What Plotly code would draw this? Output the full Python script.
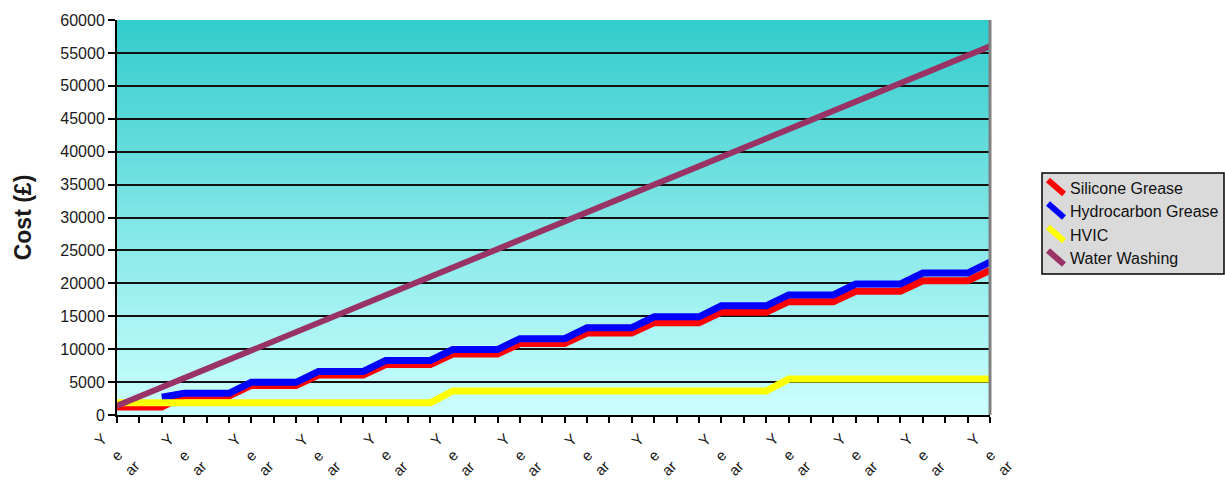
import plotly.graph_objects as go

# ---- data -------------------------------------------------------------
periods = list(range(40))
tick_label_parts = ["Y", "e", "ar"]
label_every = 3

series_names = ["Silicone Grease", "Hydrocarbon Grease", "HVIC", "Water Washing"]
series_colors = ["#FF0000", "#0000FF", "#FFFF00", "#993366"]

silicone = [1200, 1200, 1200,
            2900, 2900, 2900, 4490, 4490, 4490, 6080, 6080, 6080,
            7670, 7670, 7670, 9260, 9260, 9260, 10850, 10850, 10850,
            12440, 12440, 12440, 14030, 14030, 14030, 15620, 15620, 15620,
            17210, 17210, 17210, 18800, 18800, 18800, 20390, 20390, 20390,
            21980]

hydrocarbon = [None, None, 2700,
               3300, 3300, 3300, 4960, 4960, 4960, 6620, 6620, 6620,
               8280, 8280, 8280, 9940, 9940, 9940, 11600, 11600, 11600,
               13260, 13260, 13260, 14920, 14920, 14920, 16580, 16580, 16580,
               18240, 18240, 18240, 19900, 19900, 19900, 21560, 21560, 21560,
               23220]

hvic = [1850] * 15 + [3650] * 15 + [5450] * 10

water_washing = [1400, 2800, 4200, 5600, 7000, 8400, 9800, 11200, 12600, 14000,
                 15400, 16800, 18200, 19600, 21000, 22400, 23800, 25200, 26600, 28000,
                 29400, 30800, 32200, 33600, 35000, 36400, 37800, 39200, 40600, 42000,
                 43400, 44800, 46200, 47600, 49000, 50400, 51800, 53200, 54600, 56000]

y_ticks = list(range(0, 60001, 5000))

# ---- figure -----------------------------------------------------------
W, H = 1225, 481
L, R, T, B = 117, 235, 20, 66
pw, ph = W - L - R, H - T - B
FONT = "Arial, Liberation Sans, sans-serif"

def px_x(p):
    return (p - L) / pw

def px_y(p):
    return (H - B - p) / ph

fig = go.Figure()
for name, color, vals, width in zip(series_names, series_colors,
                                    [silicone, hydrocarbon, hvic, water_washing],
                                    [7, 7, 7, 6]):
    fig.add_trace(go.Scatter(x=periods, y=vals, name=name, mode="lines",
                             line=dict(color=color, width=width),
                             connectgaps=False, showlegend=False))

shapes = []
# vertical gradient fill of the plot area
top_rgb = (51, 204, 204)
bot_rgb = (204, 255, 255)
n_strips = 100
for k in range(n_strips):
    t = k / (n_strips - 1)
    c = tuple(round(top_rgb[j] + (bot_rgb[j] - top_rgb[j]) * t) for j in range(3))
    y1 = 1 - k / n_strips
    y0 = 1 - (k + 1.2) / n_strips
    shapes.append(dict(type="rect", xref="paper", yref="paper", x0=0, x1=1,
                       y0=max(y0, 0), y1=y1, line=dict(width=0),
                       fillcolor="rgb(%d,%d,%d)" % c, layer="below"))
# grey right-hand border of the plot area
shapes.append(dict(type="line", xref="paper", yref="paper", x0=1, x1=1, y0=0, y1=1,
                   line=dict(color="#808080", width=3), layer="above"))

# legend box
lx0, lx1, ly0, ly1 = 1042, 1224, 173, 274
shapes.append(dict(type="rect", xref="paper", yref="paper",
                   x0=px_x(lx0), x1=px_x(lx1), y0=px_y(ly1), y1=px_y(ly0),
                   line=dict(color="#000000", width=1.5), fillcolor="#DADADA",
                   layer="above"))
annotations = []
row_y = [188, 211.5, 235, 258.5]
for name, color, ry in zip(series_names, series_colors, row_y):
    shapes.append(dict(type="line", xref="paper", yref="paper",
                       x0=px_x(1048), x1=px_x(1064), y0=px_y(ry - 8), y1=px_y(ry + 6),
                       line=dict(color=color, width=6), layer="above"))
    annotations.append(dict(xref="paper", yref="paper", x=px_x(1068), y=px_y(ry),
                            text=name, showarrow=False, xanchor="left", yanchor="middle",
                            font=dict(family=FONT, size=16, color="#111111")))

# rotated, wrapped category labels under every third tick
part_offsets = [(-16, 440), (-1, 455), (14, 468)]
for i in periods:
    if i % label_every == 0:
        for part, (dx, py) in zip(tick_label_parts, part_offsets):
            annotations.append(dict(xref="x", yref="paper", x=i, y=px_y(py),
                                    text=part, showarrow=False, textangle=-45,
                                    xanchor="center", yanchor="middle", xshift=dx,
                                    font=dict(family=FONT, size=15, color="#1a1a1a")))

fig.update_layout(
    width=W, height=H,
    margin=dict(l=L, r=R, t=T, b=B),
    paper_bgcolor="#FFFFFF",
    plot_bgcolor="rgba(0,0,0,0)",
    showlegend=False,
    shapes=shapes,
    annotations=annotations,
    font=dict(family=FONT, color="#000000"),
)

fig.update_xaxes(
    range=[0, 39],
    tickmode="array",
    tickvals=periods,
    ticktext=["" for _ in periods],
    ticks="outside", ticklen=6, tickwidth=1.5, tickcolor="#000000",
    showgrid=False, zeroline=False,
    showline=True, linecolor="#000000", linewidth=2,
)
fig.update_yaxes(
    range=[0, 60000],
    tickmode="array", tickvals=y_ticks, ticktext=[str(v) for v in y_ticks],
    ticks="outside", ticklen=7, tickwidth=1.5, tickcolor="#000000",
    tickfont=dict(family=FONT, size=16, color="#1a1a1a"),
    showgrid=True, gridcolor="#111111", gridwidth=1.5,
    zeroline=False,
    showline=True, linecolor="#000000", linewidth=2,
    title=dict(text="<b>Cost (£)</b>", font=dict(family=FONT, size=23, color="#1a1a1a"),
               standoff=22),
)

fig.write_html("out.html")
